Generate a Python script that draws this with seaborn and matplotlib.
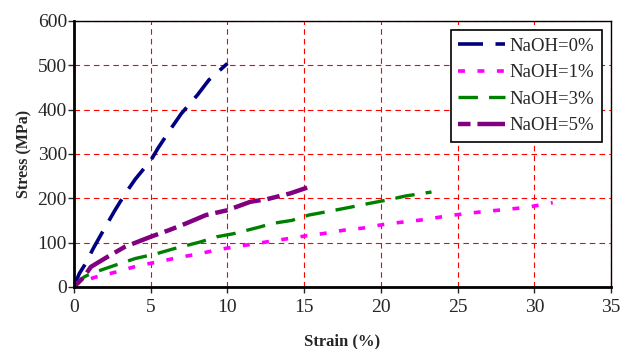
import numpy as np
import pandas as pd
import matplotlib
matplotlib.use("Agg")
import matplotlib.pyplot as plt
import seaborn as sns

strain_0 = [0, 0.35, 0.77, 1.25, 1.8, 2.66, 3.3, 4.0, 5.04, 5.5, 6.4, 7.0, 8.05, 8.8, 10.0]
stress_0 = [0, 30, 53, 86, 120, 172, 208, 243, 287, 314, 361, 391, 433, 467, 504]

strain_1 = [0, 0.2, 1.4, 2.8, 4.1, 5.4, 6.8, 8.2, 9.4, 10.8, 12.1, 13.6, 14.9, 16.2, 17.6,
            18.9, 20.2, 21.6, 22.9, 24.3, 25.7, 27.0, 28.3, 29.6, 31.2]
stress_1 = [0, 8, 22, 34, 47, 56, 66, 75, 84, 92, 99, 107, 114, 120, 128,
            133, 141, 147, 152, 160, 166, 171, 175, 180, 190]

strain_3 = [0, 0.65, 1.1, 2.7, 4.0, 5.4, 6.5, 8.2, 9.3, 10.4, 12.1, 12.9, 14.2, 15.3, 16.7,
            17.9, 19.2, 20.4, 21.6, 23.3]
stress_3 = [0, 22, 30, 49, 64, 75, 86, 101, 113, 120, 135, 143, 150, 162, 171,
            179, 188, 196, 205, 214]

strain_5 = [0, 0.65, 1.1, 2.2, 3.3, 5.0, 6.2, 7.3, 8.6, 10.0, 11.5, 12.6, 14.1, 15.2]
stress_5 = [0, 22, 45, 68, 90, 113, 128, 143, 162, 173, 192, 198, 211, 224]

labels = ["NaOH=0%", "NaOH=1%", "NaOH=3%", "NaOH=5%"]
colors = ["#000080", "#FF00FF", "#008000", "#800080"]

frames = []
for lab, xs, ys in zip(labels, [strain_0, strain_1, strain_3, strain_5],
                       [stress_0, stress_1, stress_3, stress_5]):
    frames.append(pd.DataFrame({"Strain": xs, "Stress": ys, "Series": lab}))
df = pd.concat(frames, ignore_index=True)

sns.set_style("white")
plt.rcParams["font.family"] = ["Liberation Serif", "DejaVu Serif"]
plt.rcParams["lines.scale_dashes"] = False
plt.rcParams["lines.solid_capstyle"] = "butt"
plt.rcParams["lines.dash_capstyle"] = "butt"

fig = plt.figure(figsize=(6.21, 3.49), dpi=100)
ax = fig.add_axes([0.119, 0.178, 0.865, 0.762])

dashes = {
    "NaOH=0%": (18, 9),
    "NaOH=1%": (5, 9),
    "NaOH=3%": (14, 8),
    "NaOH=5%": (9, 5, 20, 5),
}
widths = {"NaOH=0%": 2.6, "NaOH=1%": 2.6, "NaOH=3%": 2.4, "NaOH=5%": 3.2}

for lab, col in zip(labels, colors):
    sub = df[df["Series"] == lab]
    sns.lineplot(data=sub, x="Strain", y="Stress", ax=ax, color=col,
                 linewidth=widths[lab], label=lab, sort=False, estimator=None,
                 dashes=False)
    ax.lines[-1].set_dashes(dashes[lab])

ax.set_xlim(0, 35)
ax.set_ylim(0, 600)
ax.set_xticks(range(0, 36, 5))
ax.set_yticks(range(0, 601, 100))
ax.grid(True, color="#FF0000", linestyle=(0, (4, 3)), linewidth=0.8)
ax.set_axisbelow(True)
for s in ax.spines.values():
    s.set_color("black")
    s.set_linewidth(1.0)
ax.spines["left"].set_linewidth(2.0)
ax.spines["bottom"].set_linewidth(2.0)
ax.tick_params(axis="both", labelsize=14, length=4, width=1, direction="out",
               left=True, bottom=True)
ax.tick_params(axis="x", pad=5)
ax.tick_params(axis="y", pad=1)
ax.set_xlabel("Strain (%)", fontsize=12, fontweight="bold", labelpad=12)
ax.set_ylabel("Stress (MPa)", fontsize=11.5, fontweight="bold", labelpad=4)

leg = ax.legend(loc="upper right", fontsize=13.5, frameon=True, fancybox=False,
                handlelength=2.5, handletextpad=0.25, borderpad=0.4,
                labelspacing=0.5, borderaxespad=0.5)
leg.get_frame().set_edgecolor("black")
leg.get_frame().set_linewidth(1.2)
leg.get_frame().set_alpha(1)

fig.savefig("out.png", dpi=100)
